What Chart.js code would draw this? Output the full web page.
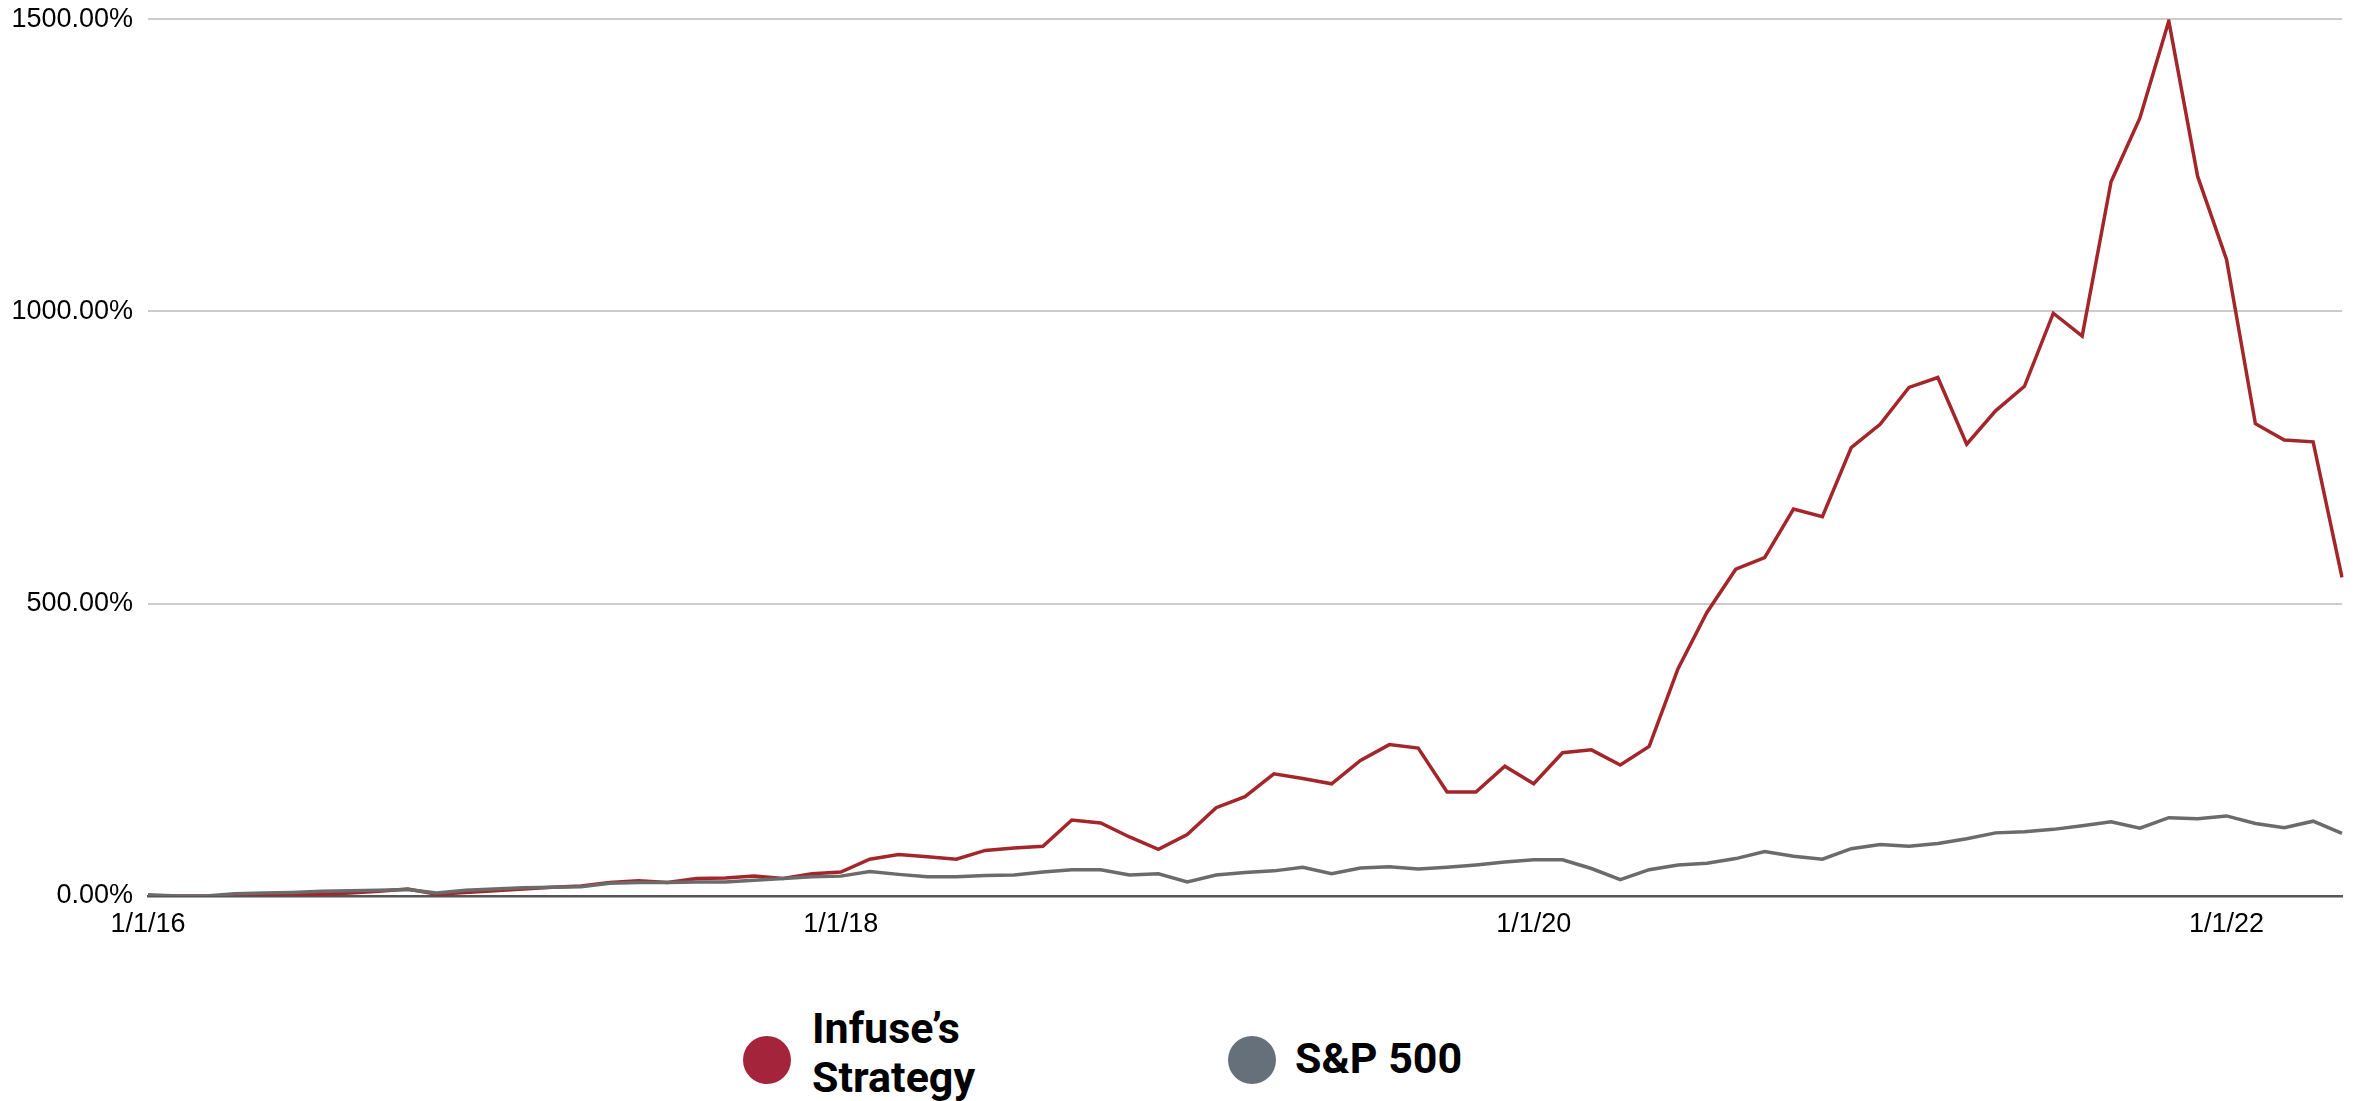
<!DOCTYPE html>
<html>
<head>
<meta charset="utf-8">
<script src="https://cdn.jsdelivr.net/npm/chart.js@4.4.0/dist/chart.umd.min.js"></script>
<style>
  html, body { margin: 0; padding: 0; background: #fff; }
  #wrap { position: relative; width: 2358px; height: 1101px; overflow: hidden; }
  #chartBox { position: absolute; left: 0; top: -12px; width: 2358px; height: 972px; }
  .dot { position: absolute; width: 48px; height: 48px; border-radius: 50%; }
  .lbl { position: absolute; font-family: Roboto, 'Noto Sans', sans-serif; font-weight: 700;
         font-size: 43px; line-height: 49px; color: #000; white-space: nowrap; }
</style>
</head>
<body>
<div id="wrap">
  <div id="chartBox"><canvas id="perfChart"></canvas></div>
  <div class="dot" style="left:743px; top:1036px; background:#a4243b;"></div>
  <div class="lbl" style="left:812px; top:1004px;">Infuse’s<br>Strategy</div>
  <div class="dot" style="left:1228px; top:1036px; background:#66707a;"></div>
  <div class="lbl" style="left:1295px; top:1034px;">S&amp;P 500</div>
</div>
<script>
// Monthly dates, 1/1/16 through 5/1/22
const months = [];
for (let i = 0; i < 77; i++) {
    months.push((i % 12 + 1) + '/1/' + (16 + Math.floor(i / 12)));
}

// Cumulative return, %
const infuseReturns = [
    0, 0, 0, 0, 1, 2, 3, 5, 8, 12, 3, 6,
    9, 12, 15, 17, 23, 26, 23, 30, 31, 34, 30, 38,
    41, 63, 71, 67, 63, 78, 82, 85, 130, 125, 101, 80,
    105, 151, 170, 209, 201, 192, 232, 259, 253, 178, 178, 222,
    192, 245, 250, 224, 256, 389, 485, 559, 579, 662, 649, 767,
    807, 870, 887, 773, 830, 872, 997, 958, 1222, 1331, 1497, 1231,
    1089, 808, 780, 777, 545
];

const sp500Returns = [
    2, 0, 0, 4, 5, 6, 8, 9, 10, 11, 5, 10,
    12, 14, 15, 16, 22, 23, 23, 24, 24, 27, 30, 33,
    34, 42, 37, 33, 33, 35, 36, 41, 45, 45, 36, 38,
    24, 36, 40, 43, 49, 38, 48, 50, 46, 49, 53, 58,
    62, 62, 47, 28, 45, 53, 56, 64, 76, 68, 63, 81,
    88, 85, 90, 98, 108, 110, 114, 120, 127, 116, 134, 132,
    137, 124, 117, 128, 107
];

const yTicks = [0, 500, 1000, 1500];

function createChart() {
    const ctx = document.getElementById('perfChart').getContext('2d');
    new Chart(ctx, {
        type: 'line',
        data: {
            labels: months,
            datasets: [
                {
                    label: 'S&P 500',
                    data: sp500Returns,
                    borderColor: '#6b6b6b',
                    borderWidth: 3.5,
                    pointRadius: 0,
                    tension: 0,
                    order: 0
                },
                {
                    label: 'Infuse’s Strategy',
                    data: infuseReturns,
                    borderColor: '#a3262b',
                    borderWidth: 3.5,
                    pointRadius: 0,
                    tension: 0,
                    order: 1
                }
            ]
        },
        options: {
            responsive: true,
            maintainAspectRatio: false,
            animation: false,
            layout: { padding: { top: 0, right: 16, left: 0, bottom: 0 } },
            plugins: {
                legend: { display: false },
                tooltip: { enabled: false }
            },
            scales: {
                x: {
                    offset: false,
                    grid: { display: false, drawTicks: false },
                    border: { display: true, color: '#555', width: 2.5 },
                    ticks: {
                        autoSkip: false,
                        maxRotation: 0,
                        padding: 12,
                        color: '#000',
                        font: { family: "'Liberation Sans', Arial, sans-serif", size: 27 },
                        callback: (v, i) => (i % 24 === 0 ? months[i] : '')
                    },
                    afterFit: s => { s.height = 64; }
                },
                y: {
                    min: 0,
                    max: 1500,
                    afterBuildTicks: s => { s.ticks = yTicks.map(v => ({ value: v })); },
                    grid: {
                        drawTicks: false,
                        lineWidth: 2,
                        color: c => (c.tick && c.tick.value === 0 ? 'rgba(0,0,0,0)' : '#cccccc')
                    },
                    border: { display: false },
                    ticks: {
                        padding: 15,
                        color: '#000',
                        font: { family: "'Liberation Sans', Arial, sans-serif", size: 27 },
                        callback: v => v.toFixed(2) + '%'
                    },
                    afterFit: s => { s.width = 148; }
                }
            }
        }
    });
}

document.addEventListener('DOMContentLoaded', () => {
    createChart();
});
</script>
</body>
</html>
